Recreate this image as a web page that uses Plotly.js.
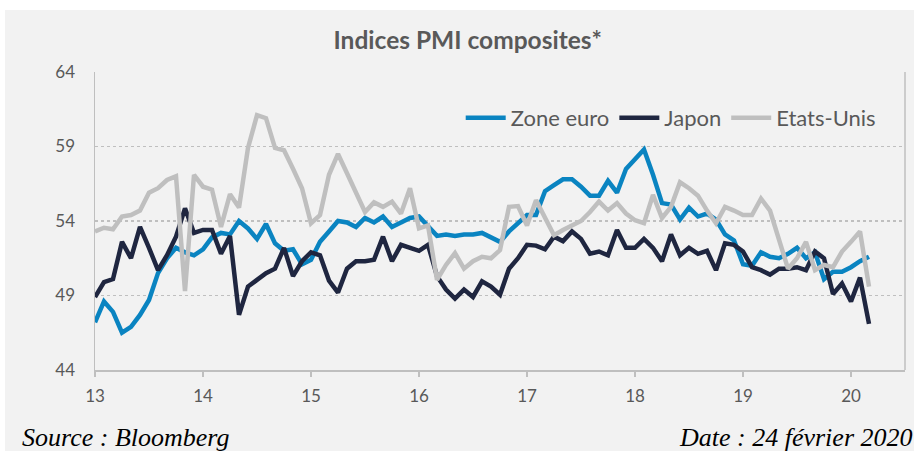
<!DOCTYPE html>
<html><head><meta charset="utf-8">
<script src="https://cdn.plot.ly/plotly-3.0.1.min.js"></script>
<style>
html,body{margin:0;padding:0;background:#ffffff;}
#chart{position:absolute;left:5px;top:10px;width:909px;height:441px;}
</style>
</head><body>
<div id="chart"></div>
<script>
// Monthly composite PMI, first point = Dec 2012 (plotted at "13"), last = Feb 2020
const monthIndex = Array.from({length: 87}, (_, i) => i);
const zoneEuro = [47.2,
  48.6,47.9,46.5,46.9,47.7,48.7,50.5,51.5,52.2,51.9,51.7,52.1,
  52.9,53.2,53.1,54.0,53.5,52.8,53.8,52.5,52.0,52.1,51.1,51.4,
  52.6,53.3,54.0,53.9,53.6,54.2,53.9,54.3,53.6,53.9,54.2,54.3,
  53.6,53.0,53.1,53.0,53.1,53.1,53.2,52.9,52.6,53.3,53.9,54.4,
  54.4,56.0,56.4,56.8,56.8,56.3,55.7,55.7,56.7,55.9,57.5,58.1,
  58.8,57.1,55.2,55.1,54.1,54.9,54.3,54.5,54.1,53.1,52.7,51.1,
  51.0,51.9,51.6,51.5,51.8,52.2,51.5,51.9,50.1,50.6,50.6,50.9,
  51.3,51.6];
const japon = [48.9,49.9,50.1,52.6,51.5,53.6,52.2,50.7,51.7,52.95,
  54.85,53.2,53.4,53.4,51.8,53.0,47.7,49.6,50.05,50.5,
  50.8,52.2,50.3,51.3,51.9,51.7,50.0,49.2,50.8,51.3,
  51.3,51.4,52.95,51.3,52.4,52.2,52.0,52.4,50.3,49.4,
  48.8,49.4,48.9,49.95,49.6,49.05,50.8,51.5,52.4,52.35,
  52.1,52.95,52.65,53.3,52.8,51.8,51.95,51.7,53.4,52.2,
  52.2,52.8,52.2,51.3,53.1,51.7,52.2,51.8,52.0,50.7,
  52.5,52.4,51.95,50.9,50.7,50.4,50.8,50.8,50.9,50.7,
  51.95,51.5,49.1,49.8,48.6,50.2,47.1];
const etatsUnis = [53.3,53.55,53.45,54.3,54.4,54.7,55.9,56.2,56.75,57.0,
  49.3,57.1,56.3,56.1,53.6,55.8,54.9,58.9,61.1,60.9,
  58.9,58.75,57.5,56.2,53.85,54.4,57.1,58.5,57.2,55.85,
  54.6,55.25,54.95,55.3,54.5,56.2,53.5,53.7,50.05,51.05,
  51.85,50.8,51.3,51.6,51.5,52.05,54.95,55.0,53.7,55.4,
  54.3,53.05,53.4,53.7,54.0,54.6,55.3,54.7,55.2,54.5,
  54.05,53.85,55.75,54.2,54.95,56.6,56.2,55.7,54.7,53.85,
  54.95,54.7,54.4,54.4,55.5,54.7,52.85,50.8,51.5,52.6,
  50.7,51.05,50.9,51.95,52.6,53.3,49.6];
const tickVals = [13,14,15,16,17,18,19,20];
const tickText = ['13','14','15','16','17','18','19','20'];
const seriesNames = ['Zone euro','Japon','Etats-Unis'];
const seriesColors = ['#0a84c1','#1f2640','#bfbfbf'];

const xs = monthIndex.map(i => 13 + i / 12);
const txt = '#595959';
const font = 'Lato, "Open Sans", sans-serif';

const traces = [zoneEuro, japon, etatsUnis].map((ys, k) => ({
  type: 'scatter', mode: 'lines', x: xs, y: ys, name: seriesNames[k],
  line: {color: seriesColors[k], width: 4.5}, hoverinfo: 'skip'
}));

const layout = {
  width: 909, height: 441,
  paper_bgcolor: '#f2f2f2', plot_bgcolor: '#f2f2f2',
  margin: {l: 90, r: 9, t: 62, b: 81},
  font: {family: font, color: txt},
  title: {text: '<b>Indices PMI composites*</b>', font: {size: 24.5, color: txt, family: font},
          xref: 'container', x: 0.509, xanchor: 'center', yref: 'container', y: 0.93, yanchor: 'middle'},
  showlegend: true,
  legend: {orientation: 'h', x: 0.97, xanchor: 'right', y: 0.846, yanchor: 'middle',
           bgcolor: 'rgba(0,0,0,0)', font: {size: 22, color: txt}, itemwidth: 40, traceorder: 'normal'},
  xaxis: {range: [13, 20.5], tickvals: tickVals, ticktext: tickText, showgrid: false, zeroline: false,
          showline: true, linecolor: '#bfbfbf', linewidth: 1.5, ticks: 'outside', ticklen: 5,
          tickcolor: '#bfbfbf', tickwidth: 1.5, tickfont: {size: 17, color: txt}, ticklabelstandoff: 5},
  yaxis: {range: [44, 64], tick0: 44, dtick: 5, showgrid: true, gridcolor: '#bfbfbf', griddash: 'dot',
          gridwidth: 1.3, zeroline: false, showline: true, linecolor: '#bfbfbf', linewidth: 1.5,
          ticks: '', tickfont: {size: 17, color: txt}, ticklabelstandoff: 15},
  shapes: [{type: 'line', xref: 'paper', yref: 'paper', x0: 1, x1: 1, y0: 0, y1: 1,
            line: {color: '#bfbfbf', width: 1.5}}],
  annotations: [
    {text: '<i>Source : Bloomberg</i>', xref: 'paper', yref: 'paper', x: -0.093, y: -0.225,
     xanchor: 'left', yanchor: 'middle', showarrow: false,
     font: {family: '"Liberation Serif", "Times New Roman", serif', size: 26, color: '#000000'}},
    {text: '<i>Date : 24 février 2020</i>', xref: 'paper', yref: 'paper', x: 0.718, y: -0.225,
     xanchor: 'left', yanchor: 'middle', showarrow: false,
     font: {family: '"Liberation Serif", "Times New Roman", serif', size: 26, color: '#000000'}}
  ]
};

Plotly.newPlot('chart', traces, layout, {staticPlot: true, displayModeBar: false});
</script>
</body></html>
